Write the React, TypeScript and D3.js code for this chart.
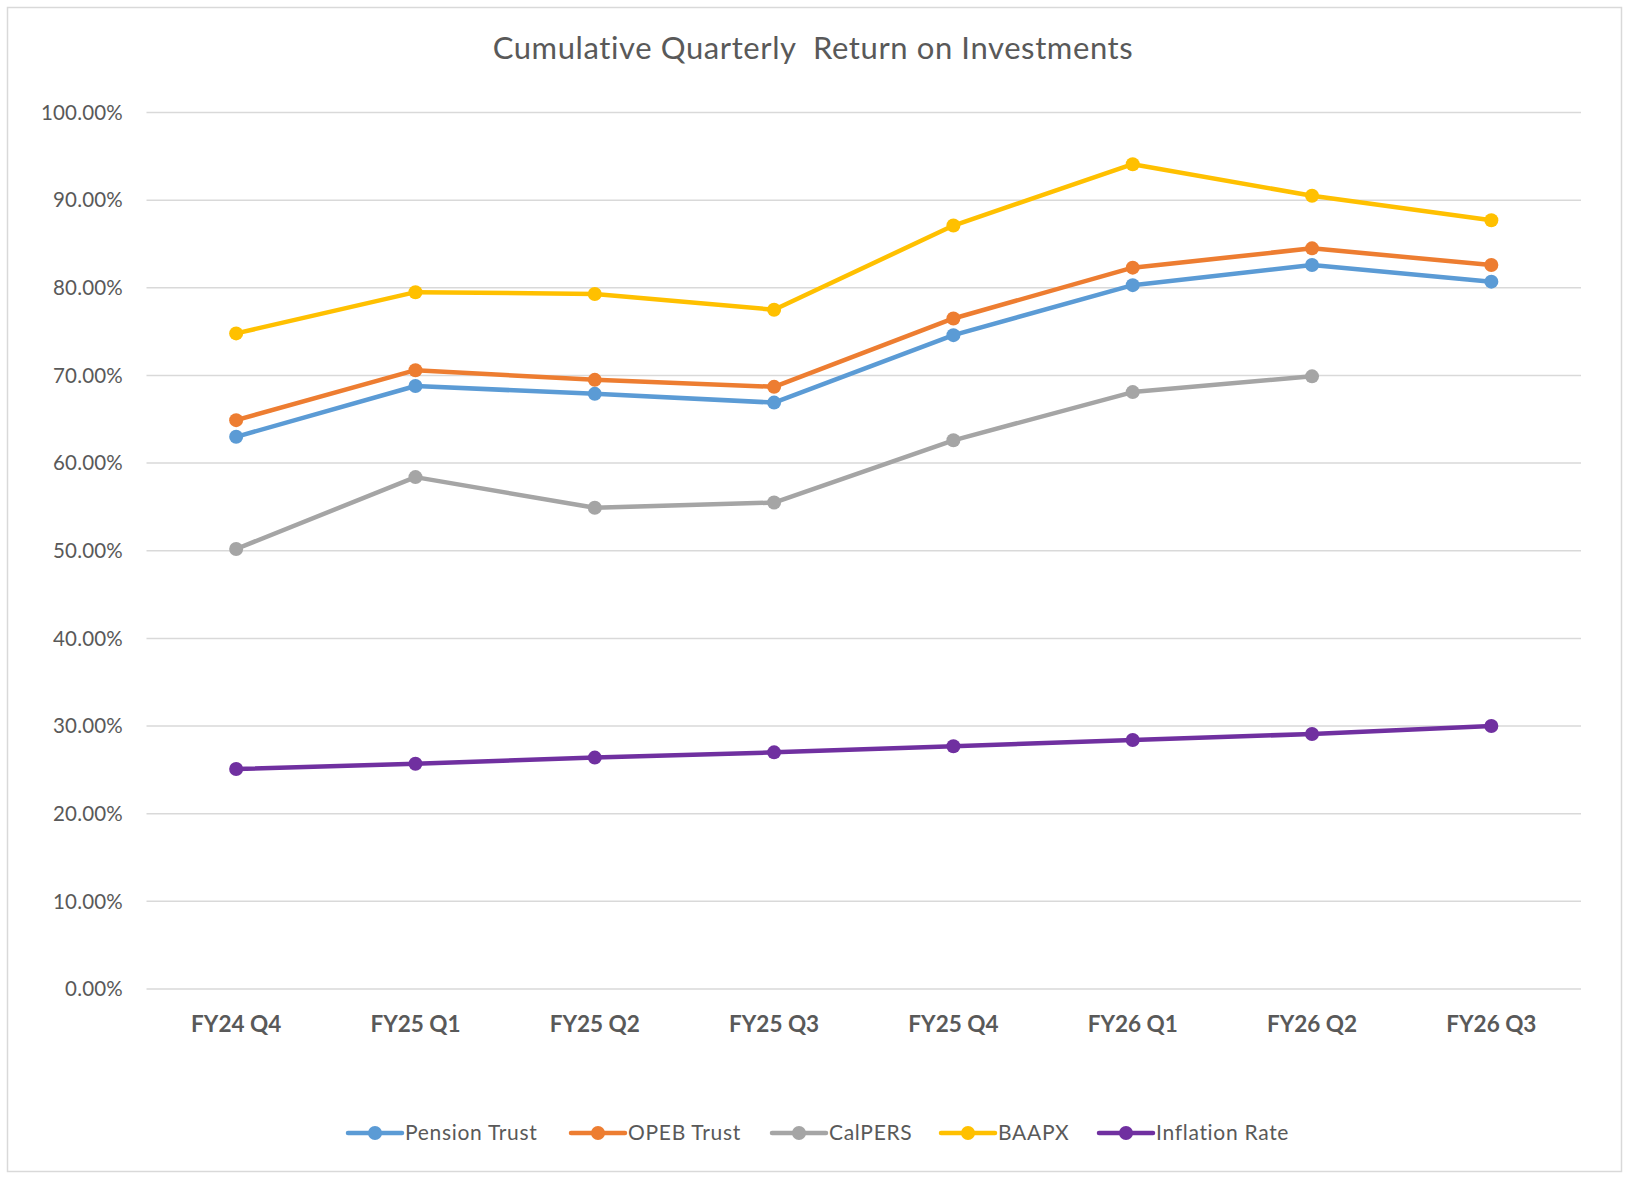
import { useEffect } from 'react'
import * as d3 from 'd3'

const WIDTH = 1629
const HEIGHT = 1177

const QUARTERS = ['FY24 Q4', 'FY25 Q1', 'FY25 Q2', 'FY25 Q3', 'FY25 Q4', 'FY26 Q1', 'FY26 Q2', 'FY26 Q3']

// values in percent
const PENSION_TRUST = [63.0, 68.8, 67.9, 66.9, 74.6, 80.3, 82.6, 80.7]
const OPEB_TRUST = [64.9, 70.6, 69.5, 68.7, 76.5, 82.3, 84.5, 82.6]
const CALPERS = [50.2, 58.4, 54.9, 55.5, 62.6, 68.1, 69.9, null]
const BAAPX = [74.8, 79.5, 79.3, 77.5, 87.1, 94.1, 90.5, 87.7]
const INFLATION_RATE = [25.1, 25.7, 26.4, 27.0, 27.7, 28.4, 29.1, 30.0]

const SERIES_NAMES = ['Pension Trust', 'OPEB Trust', 'CalPERS', 'BAAPX', 'Inflation Rate']
const SERIES_COLORS = ['#5B9BD5', '#ED7D31', '#A5A5A5', '#FFC000', '#7030A0']
const Y_TICKS = [0, 10, 20, 30, 40, 50, 60, 70, 80, 90, 100]

const FONT = 'Lato, "Open Sans", sans-serif'

export default function App() {
  useEffect(() => {
    document.body.style.margin = '0'
  }, [])

  const series = [PENSION_TRUST, OPEB_TRUST, CALPERS, BAAPX, INFLATION_RATE].map((values, i) => ({
    name: SERIES_NAMES[i],
    color: SERIES_COLORS[i],
    points: values.map((v, j) => ({ q: QUARTERS[j], v }))
  }))

  const x = d3.scaleBand()
    .domain(QUARTERS)
    .range([146.5, 1581])

  const y = d3.scaleLinear()
    .domain([0, 100])
    .range([989, 112.5])

  const cx = (q: string) => (x(q) ?? 0) + x.bandwidth() / 2

  const line = d3.line<{ q: string, v: number | null }>()
    .defined(d => d.v != null)
    .x(d => cx(d.q))
    .y(d => y(d.v as number))

  // legend layout (left of swatch for each item)
  const legendX = [348, 571, 772, 941, 1099]
  const legendY = 1133

  return (
    <svg width={WIDTH} height={HEIGHT} style={{ display: 'block', background: '#fff' }}>
      <rect x={7.5} y={7.5} width={1614} height={1164} fill="#fff" stroke="#d9d9d9" strokeWidth={1.5} />

      <text
        x={813}
        y={59}
        textAnchor="middle"
        fontFamily={FONT}
        fontSize={31}
        letterSpacing={0.6}
        fill="#595959"
        style={{ whiteSpace: 'pre' }}
      >
        {'Cumulative Quarterly  Return on Investments'}
      </text>

      {/* gridlines + y labels */}
      {Y_TICKS.map(t => (
        <g key={t}>
          <line x1={146.5} x2={1581} y1={y(t)} y2={y(t)} stroke="#d9d9d9" strokeWidth={1.5} />
          <text
            x={123}
            y={y(t)}
            dy="0.35em"
            textAnchor="end"
            fontFamily={FONT}
            fontSize={20.5}
            letterSpacing={0.2}
            fill="#595959"
          >
            {`${t.toFixed(2)}%`}
          </text>
        </g>
      ))}

      {/* x labels */}
      {QUARTERS.map(q => (
        <text
          key={q}
          x={cx(q)}
          y={1024}
          dy="0.35em"
          textAnchor="middle"
          fontFamily={FONT}
          fontWeight="bold"
          fontSize={22.5}
          fill="#595959"
        >
          {q}
        </text>
      ))}

      {/* series */}
      {series.map(s => (
        <g key={s.name}>
          <path
            d={line(s.points) ?? ''}
            fill="none"
            stroke={s.color}
            strokeWidth={4.5}
            strokeLinejoin="round"
            strokeLinecap="round"
          />
          {s.points.filter(p => p.v != null).map(p => (
            <circle key={p.q} cx={cx(p.q)} cy={y(p.v as number)} r={7} fill={s.color} />
          ))}
        </g>
      ))}

      {/* legend */}
      {series.map((s, i) => (
        <g key={s.name} transform={`translate(${legendX[i]}, ${legendY})`}>
          <line x1={0} x2={54} y1={0} y2={0} stroke={s.color} strokeWidth={4.5} strokeLinecap="round" />
          <circle cx={27} cy={0} r={7} fill={s.color} />
          <text
            x={57}
            y={0}
            dy="0.35em"
            fontFamily={FONT}
            fontSize={21}
            letterSpacing={0.7}
            fill="#595959"
          >
            {s.name}
          </text>
        </g>
      ))}
    </svg>
  )
}
